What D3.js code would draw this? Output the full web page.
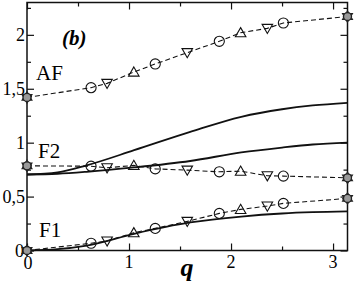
<!DOCTYPE html>
<html>
<head>
<meta charset="utf-8">
<script src="https://cdn.jsdelivr.net/npm/d3@7"></script>
<style>
  body { margin: 0; background: #fff; }
  text { font-family: "Times New Roman", "Liberation Serif", Times, "Nimbus Roman", "Noto Serif", "DejaVu Serif", serif; }
</style>
</head>
<body>
<div id="chart"></div>
<script>
// momentum points where the dashed (numerical) data sit
const qPoints = [0, 0.628, 0.785, 1.047, 1.257, 1.571, 1.885, 2.094, 2.356, 2.513, Math.PI];
const markerKind = ["end", "o", "v", "^", "o", "v", "o", "^", "v", "o", "end"];

const afValues = [1.42, 1.51, 1.55, 1.655, 1.73, 1.835, 1.94, 2.02, 2.06, 2.11, 2.17];
const f2Values = [0.785, 0.782, 0.767, 0.789, 0.757, 0.745, 0.73, 0.736, 0.693, 0.69, 0.674];
const f1Values = [0, 0.067, 0.088, 0.165, 0.205, 0.27, 0.344, 0.381, 0.412, 0.437, 0.483];

// solid curves
const curveQ = [0, 0.3, 0.585, 1.05, 1.6, 2.1, 2.5, 2.8, Math.PI];
const upperCurve = [0.705, 0.725, 0.79, 0.93, 1.10, 1.24, 1.31, 1.345, 1.37];
const middleCurve = [0.705, 0.712, 0.73, 0.77, 0.83, 0.91, 0.955, 0.983, 1.0];
const lowerCurve = [0, 0.012, 0.045, 0.155, 0.26, 0.315, 0.343, 0.355, 0.362];

const xMajor = [0, 1, 2, 3];
const xMinor = [0.5, 1.5, 2.5];
const yMajor = [0, 0.5, 1, 1.5, 2];
const yTickText = ["0", "0,5", "1", "1,5", "2"];
const yMinor = [0.25, 0.75, 1.25, 1.75, 2.25];

const width = 354, height = 289;
const margin = { left: 27, right: 6.5, top: 2.5, bottom: 38.5 };

const svg = d3.select("#chart").append("svg")
  .attr("width", width)
  .attr("height", height);

const x = d3.scaleLinear().domain([0, Math.PI]).range([margin.left, width - margin.right]);
const y = d3.scaleLinear().domain([0, 2.3]).range([height - margin.bottom, margin.top]);

const ink = "#111";

// ticks on all four sides, pointing inward
function tickAxis(axisFn, scale, vals, len, tx, ty) {
  const g = svg.append("g")
    .attr("transform", `translate(${tx},${ty})`)
    .call(axisFn(scale).tickValues(vals).tickSize(len).tickFormat(""));
  g.select(".domain").remove();
  g.selectAll("line").attr("stroke", ink).attr("stroke-width", 1.2);
  return g;
}
const x0 = x.range()[0], x1 = x.range()[1], y0 = y.range()[0], y1 = y.range()[1];
tickAxis(d3.axisBottom, x, xMajor, -7, 0, y0);
tickAxis(d3.axisBottom, x, xMinor, -4, 0, y0);
tickAxis(d3.axisTop, x, xMajor, -7, 0, y1);
tickAxis(d3.axisTop, x, xMinor, -4, 0, y1);
tickAxis(d3.axisLeft, y, yMajor, -7, x0, 0);
tickAxis(d3.axisLeft, y, yMinor, -4, x0, 0);
tickAxis(d3.axisRight, y, yMajor, -7, x1, 0);
tickAxis(d3.axisRight, y, yMinor, -4, x1, 0);

svg.append("rect")
  .attr("x", x0).attr("y", y1)
  .attr("width", x1 - x0).attr("height", y0 - y1)
  .attr("fill", "none")
  .attr("stroke", ink)
  .attr("stroke-width", 1.5);

// tick labels
svg.append("g").selectAll("text")
  .data(xMajor)
  .enter().append("text")
  .attr("x", d => x(d) + (d === 0 ? 1 : 0))
  .attr("y", d => y0 + (d === 0 ? 18 : 17))
  .attr("text-anchor", "middle")
  .attr("font-size", "18px")
  .text(d => d);

svg.append("g").selectAll("text")
  .data(yMajor)
  .enter().append("text")
  .attr("x", d => x0 - (d === 0 ? 3 : 2))
  .attr("y", d => y(d) + 6)
  .attr("text-anchor", "end")
  .attr("font-size", "18px")
  .text((d, i) => yTickText[i]);

svg.append("text")
  .attr("x", 187)
  .attr("y", 276)
  .attr("text-anchor", "middle")
  .attr("font-size", "26px")
  .attr("font-weight", "bold")
  .attr("font-style", "italic")
  .text("q");

// solid curves
const solid = d3.line()
  .x((d, i) => x(curveQ[i]))
  .y(d => y(d))
  .curve(d3.curveMonotoneX);

[upperCurve, middleCurve, lowerCurve].forEach(c => {
  svg.append("path")
    .datum(c)
    .attr("d", solid)
    .attr("fill", "none")
    .attr("stroke", ink)
    .attr("stroke-width", 1.8);
});

// dashed series with markers
const dashed = d3.line()
  .x((d, i) => x(qPoints[i]))
  .y(d => y(d));

const circ = d3.symbol().type(d3.symbolCircle).size(80)();
const tri = d3.symbol().type(d3.symbolTriangle).size(48)();
const endCirc = d3.symbol().type(d3.symbolCircle).size(50)();
const endTri = d3.symbol().type(d3.symbolTriangle).size(40)();

function drawMarker(g, kind, px, py) {
  if (kind === "o") {
    g.append("path").attr("d", circ).attr("transform", `translate(${px},${py})`);
  } else if (kind === "^") {
    g.append("path").attr("d", tri).attr("transform", `translate(${px},${py + 1})`);
  } else if (kind === "v") {
    g.append("path").attr("d", tri).attr("transform", `translate(${px},${py - 1}) rotate(180)`);
  } else {
    const e = g.append("g").attr("stroke-width", 1.3).attr("fill", "#bbb").attr("stroke", "#222");
    e.append("path").attr("d", endTri).attr("transform", `translate(${px},${py})`);
    e.append("path").attr("d", endTri).attr("transform", `translate(${px},${py}) rotate(180)`);
    e.append("path").attr("d", endCirc).attr("transform", `translate(${px},${py})`).attr("fill", "#999");
  }
}

[afValues, f2Values, f1Values].forEach(vals => {
  svg.append("path")
    .datum(vals)
    .attr("d", dashed)
    .attr("fill", "none")
    .attr("stroke", ink)
    .attr("stroke-width", 1.1)
    .attr("stroke-dasharray", "5,3");

  const g = svg.append("g")
    .attr("fill", "none")
    .attr("stroke", ink)
    .attr("stroke-width", 1.1);
  vals.forEach((v, i) => drawMarker(g, markerKind[i], x(qPoints[i]), y(v)));
});

// labels
const labels = [
  { t: "AF", x: 36, y: 80 },
  { t: "F2", x: 38, y: 158 },
  { t: "F1", x: 39, y: 237 }
];
svg.append("g").selectAll("text")
  .data(labels)
  .enter().append("text")
  .attr("x", d => d.x)
  .attr("y", d => d.y)
  .attr("font-size", "21px")
  .text(d => d.t);

svg.append("text")
  .attr("x", 62)
  .attr("y", 45)
  .attr("font-size", "21px")
  .attr("font-weight", "bold")
  .attr("font-style", "italic")
  .text("(b)");
</script>
</body>
</html>
